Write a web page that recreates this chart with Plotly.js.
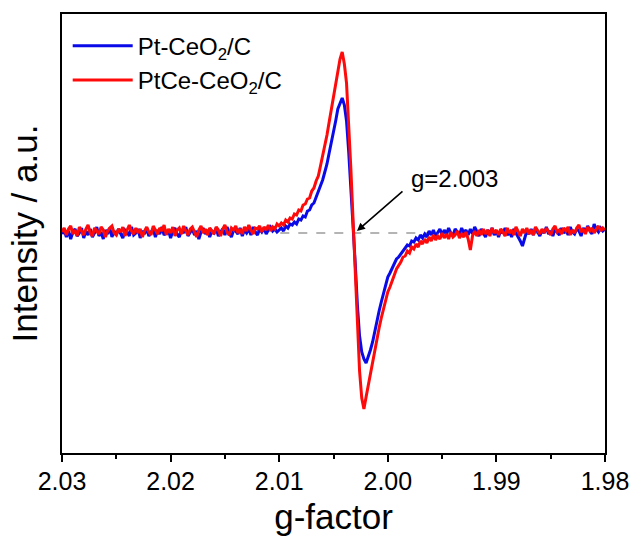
<!DOCTYPE html>
<html>
<head>
<meta charset="utf-8">
<script src="https://cdn.plot.ly/plotly-3.0.1.min.js"></script>
<style>html,body{margin:0;padding:0;background:#fff;}#chart{width:639px;height:542px;}</style>
</head>
<body>
<div id="chart"></div>
<script>
// g-factor grid (step 0.0002)
var gFactor = [
2.0300,2.0298,2.0296,2.0294,2.0292,2.0290,2.0288,2.0286,2.0284,2.0282,
2.0280,2.0278,2.0276,2.0274,2.0272,2.0270,2.0268,2.0266,2.0264,2.0262,
2.0260,2.0258,2.0256,2.0254,2.0252,2.0250,2.0248,2.0246,2.0244,2.0242,
2.0240,2.0238,2.0236,2.0234,2.0232,2.0230,2.0228,2.0226,2.0224,2.0222,
2.0220,2.0218,2.0216,2.0214,2.0212,2.0210,2.0208,2.0206,2.0204,2.0202,
2.0200,2.0198,2.0196,2.0194,2.0192,2.0190,2.0188,2.0186,2.0184,2.0182,
2.0180,2.0178,2.0176,2.0174,2.0172,2.0170,2.0168,2.0166,2.0164,2.0162,
2.0160,2.0158,2.0156,2.0154,2.0152,2.0150,2.0148,2.0146,2.0144,2.0142,
2.0140,2.0138,2.0136,2.0134,2.0132,2.0130,2.0128,2.0126,2.0124,2.0122,
2.0120,2.0118,2.0116,2.0114,2.0112,2.0110,2.0108,2.0106,2.0104,2.0102,
2.0100,2.0098,2.0096,2.0094,2.0092,2.0090,2.0088,2.0086,2.0084,2.0082,
2.0080,2.0078,2.0076,2.0074,2.0072,2.0070,2.0068,2.0066,2.0064,2.0062,
2.0060,2.0058,2.0056,2.0054,2.0052,2.0050,2.0048,2.0046,2.0044,2.0042,
2.0040,2.0038,2.0036,2.0034,2.0032,2.0030,2.0028,2.0026,2.0024,2.0022,
2.0020,2.0018,2.0016,2.0014,2.0012,2.0010,2.0008,2.0006,2.0004,2.0002,
2.0000,1.9998,1.9996,1.9994,1.9992,1.9990,1.9988,1.9986,1.9984,1.9982,
1.9980,1.9978,1.9976,1.9974,1.9972,1.9970,1.9968,1.9966,1.9964,1.9962,
1.9960,1.9958,1.9956,1.9954,1.9952,1.9950,1.9948,1.9946,1.9944,1.9942,
1.9940,1.9938,1.9936,1.9934,1.9932,1.9930,1.9928,1.9926,1.9924,1.9922,
1.9920,1.9918,1.9916,1.9914,1.9912,1.9910,1.9908,1.9906,1.9904,1.9902,
1.9900,1.9898,1.9896,1.9894,1.9892,1.9890,1.9888,1.9886,1.9884,1.9882,
1.9880,1.9878,1.9876,1.9874,1.9872,1.9870,1.9868,1.9866,1.9864,1.9862,
1.9860,1.9858,1.9856,1.9854,1.9852,1.9850,1.9848,1.9846,1.9844,1.9842,
1.9840,1.9838,1.9836,1.9834,1.9832,1.9830,1.9828,1.9826,1.9824,1.9822,
1.9820,1.9818,1.9816,1.9814,1.9812,1.9810,1.9808,1.9806,1.9804,1.9802,
1.9800
];

// Pt-CeO2/C intensity (a.u.)
var ptCeO2 = [
-1,3,-4,2,-6,1,4,-3,0,5,
-5,2,-2,4,-4,0,6,-3,1,-6,
3,-1,5,-4,2,-2,4,0,-5,3,
1,-3,6,-2,0,4,-5,2,-1,5,
-3,1,4,-4,3,-1,6,-2,0,3,
-5,2,5,-1,-4,3,0,6,-3,1,
4,-2,2,-6,1,5,-1,3,-4,2,
0,5,-3,1,4,-2,6,0,-4,3,
2,-1,5,-3,3,0,4,-2,6,1,
-2,4,1,5,-1,3,6,2,4,1,
3,5,2,7,5,9,8,11,9,14,
13,17,16,22,23,28,30,36,40,47,
53,61,69,80,90,101,112,124,130,135,
128,112,81,46,8,-30,-72,-103,-119,-126,
-130,-124,-117,-109,-98,-88,-78,-69,-60,-51,
-44,-40,-35,-31,-26,-24,-21,-17,-15,-12,
-13,-8,-9,-5,-7,-2,-5,-1,-4,2,
-2,3,-3,1,4,-2,3,-1,5,0,
-3,4,1,-2,5,0,3,-2,4,-1,
6,1,-3,4,0,-4,3,-1,5,-2,
2,-4,3,0,5,-2,1,-4,4,0,
-3,-8,-13,-4,2,-1,4,-2,5,1,
-3,3,0,6,-1,2,-3,4,1,-2,
5,0,3,-2,6,1,-1,4,2,-3,
5,1,7,3,-1,9,4,1,5,2,
4
];

// PtCe-CeO2/C intensity (a.u.)
var ptCeCeO2 = [
1,5,-2,4,7,-1,3,-3,6,2,
-2,4,8,0,-3,5,2,-1,6,3,
-4,2,5,7,0,-2,4,1,6,-3,
3,8,2,-1,5,0,4,-4,2,6,
1,-2,7,3,-1,5,2,8,-2,4,
0,6,-3,3,5,-1,7,2,-2,4,
6,1,-4,3,7,0,4,-2,5,2,
-1,6,3,-3,4,8,1,-2,5,3,
7,0,4,-1,6,2,8,3,-1,5,
4,7,1,6,3,8,2,6,4,9,
7,10,8,13,11,15,14,19,18,23,
22,28,29,34,35,42,45,52,57,67,
77,88,98,111,124,136,150,163,174,181,
169,150,112,64,13,-37,-88,-138,-165,-176,
-164,-152,-141,-130,-118,-107,-95,-85,-76,-68,
-59,-54,-47,-42,-36,-33,-29,-24,-23,-18,
-20,-14,-16,-11,-14,-8,-11,-6,-10,-4,
-8,-2,-7,-3,-6,0,-5,-1,-6,1,
-4,-2,2,-5,-1,-4,1,-6,-17,-3,
2,-3,3,-2,4,-1,3,-3,5,0,
3,-2,4,1,-3,5,0,3,-2,6,
1,-3,4,0,5,-1,3,-2,6,2,
-1,4,0,5,2,-2,4,7,1,3,
-1,5,2,6,-2,3,0,5,8,1,
4,-1,6,2,5,0,4,7,2,5,
3
];

var seriesNames = ['Pt-CeO<sub>2</sub>/C', 'PtCe-CeO<sub>2</sub>/C'];
var tickValues = [2.03, 2.02, 2.01, 2.00, 1.99, 1.98];
var tickLabels = ['2.03', '2.02', '2.01', '2.00', '1.99', '1.98'];
var minorTicks = [2.025, 2.015, 2.005, 1.995, 1.985];
var gMark = 2.003;

var FONT = 'Arial, "Liberation Sans", sans-serif';

var traces = [
  {x: gFactor, y: ptCeO2, name: seriesNames[0], type: 'scatter', mode: 'lines',
   line: {color: '#0a0ae8', width: 3}},
  {x: gFactor, y: ptCeCeO2, name: seriesNames[1], type: 'scatter', mode: 'lines',
   line: {color: '#ff0a0a', width: 3}}
];

var layout = {
  width: 639, height: 542,
  margin: {l: 62, r: 34, t: 14, b: 89},
  paper_bgcolor: '#fff', plot_bgcolor: '#fff',
  font: {family: FONT, color: '#000'},
  showlegend: true,
  legend: {x: 0.0105, y: 0.978, xanchor: 'left', yanchor: 'top', bgcolor: 'rgba(0,0,0,0)',
           font: {size: 24, family: FONT}, itemwidth: 60},
  xaxis: {
    range: [2.03, 1.98], tickmode: 'array', tickvals: tickValues, ticktext: tickLabels,
    ticks: 'outside', ticklen: 7, tickwidth: 2, tickcolor: '#000',
    ticklabelstandoff: -2,
    minor: {tickmode: 'array', tickvals: minorTicks, ticks: 'outside', ticklen: 4, tickwidth: 2, tickcolor: '#000'},
    showline: true, linewidth: 2, linecolor: '#000', mirror: true,
    showgrid: false, zeroline: false,
    tickfont: {size: 25, family: FONT},
    title: {text: 'g-factor', font: {size: 35, family: FONT}, standoff: 10}
  },
  yaxis: {
    range: [-220, 219], showticklabels: false, ticks: '',
    showline: true, linewidth: 2, linecolor: '#000', mirror: true,
    showgrid: false, zeroline: false,
    title: {text: 'Intensity / a.u.', font: {size: 35, family: FONT}, standoff: 12}
  },
  shapes: [
    {type: 'line', xref: 'x', yref: 'y', x0: 2.0099, x1: 1.985, y0: 0, y1: 0, layer: 'below',
     line: {color: '#b4b4b4', width: 2, dash: 'dash'}}
  ],
  annotations: [
    {x: 1.9939, y: 55, xref: 'x', yref: 'y', text: 'g=' + gMark.toFixed(3), showarrow: false,
     font: {size: 24, family: FONT, color: '#000'}},
    {x: 2.00284, y: 2, xref: 'x', yref: 'y', ax: 1.99851, ay: 43, axref: 'x', ayref: 'y',
     text: '', showarrow: true, arrowhead: 2, arrowsize: 1, arrowwidth: 1.6, arrowcolor: '#000'}
  ]
};

Plotly.newPlot('chart', traces, layout, {displayModeBar: false, staticPlot: true});
</script>
</body>
</html>
